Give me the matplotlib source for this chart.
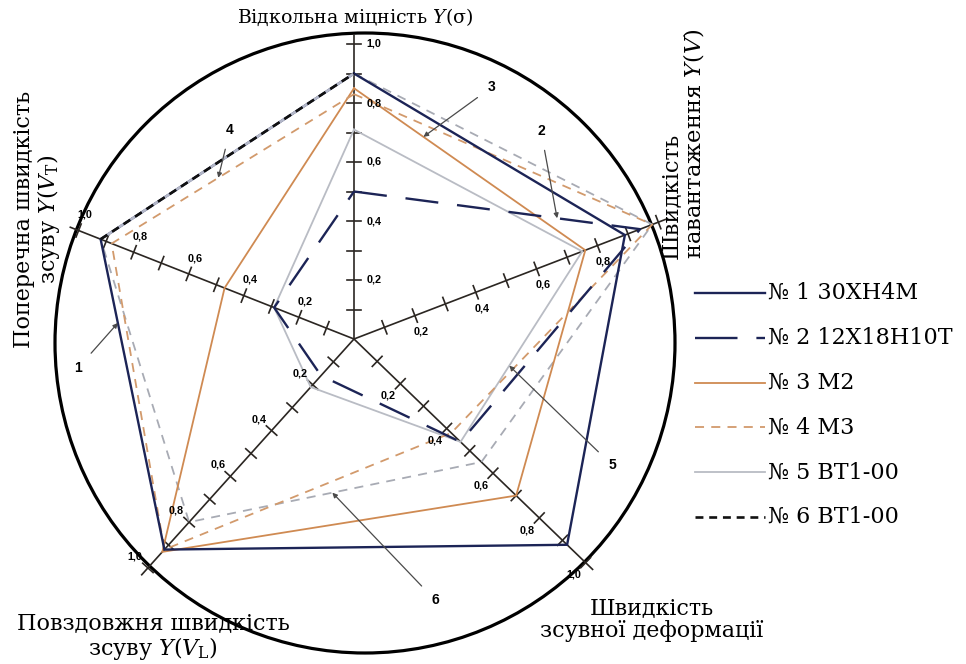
import numpy as np
import matplotlib.pyplot as plt
from matplotlib.patches import Circle

plt.rcParams['mathtext.fontset'] = 'dejavuserif'
SERIF = 'DejaVu Serif'

# five criteria of the diagram, clockwise from the top
axis_titles = ['Відкольна міцність $Y$(σ)',
               'Швидкість\nнавантаження $Y(V)$',
               'Швидкість\nзсувної деформації',
               'Повздовжня швидкість\nзсуву $Y(V_{\\mathrm{L}})$',
               'Поперечна швидкість\nзсуву $Y(V_{\\mathrm{T}})$']
tick_vals = [0.2, 0.4, 0.6, 0.8, 1.0]
tick_text = ['0,2', '0,4', '0,6', '0,8', '1,0']

# normalised criteria per material (same axis order as above)
s1 = [0.90, 0.89, 0.92, 0.92, 0.92]
s2 = [0.50, 0.94, 0.46, 0.16, 0.29]
s3 = [0.85, 0.76, 0.70, 0.93, 0.47]
s4 = [0.83, 0.98, 0.42, 0.92, 0.88]
s5 = [0.71, 0.75, 0.46, 0.21, 0.29]
s6 = [0.90, 0.98, 0.55, 0.80, 0.92]
series = [s1, s2, s3, s4, s5, s6]
names = ['№ 1 30ХН4М', '№ 2 12Х18Н10Т', '№ 3 М2',
         '№ 4 М3', '№ 5 ВТ1-00', '№ 6 ВТ1-00']

# drawing is done in pixel units (y grows downward)
cx, cy = 354, 339
ang = np.radians([90, 21, -44, -132, 158.5])
rad = [295, 326, 322, 308, 296]


def pt(i, v):
    return cx + v * rad[i] * np.cos(ang[i]), cy - v * rad[i] * np.sin(ang[i])


def normal(i):
    # unit vector perpendicular to axis i, turned clockwise on screen
    return np.sin(ang[i]), np.cos(ang[i])


def outline(vals):
    xy = [pt(i, v) for i, v in enumerate(vals)]
    xy.append(xy[0])
    return [p[0] for p in xy], [p[1] for p in xy]


styles = [
    dict(color='#1c2456', lw=1.7, ls='-', zorder=6),
    dict(color='#1c2456', lw=1.7, dashes=(14, 8), zorder=5),
    dict(color='#cf8a52', lw=1.3, ls='-', zorder=4),
    dict(color='#d29a6c', lw=1.3, dashes=(5, 4), zorder=4),
    dict(color='#b9bcc4', lw=1.3, ls='-', zorder=3),
    dict(color='#a8abb4', lw=1.3, dashes=(5, 4), zorder=3),
]

fig = plt.figure(figsize=(9.66, 6.64), dpi=100)
ax = fig.add_axes([0, 0, 1, 1])
ax.set_xlim(0, 966)
ax.set_ylim(664, 0)
ax.axis('off')

# outer circle
ax.add_patch(Circle((365, 343), 310, fill=False, lw=2.3, color='black', zorder=2))

# spokes with ticks every 0.1
for i in range(5):
    x0, y0 = pt(i, 0)
    x1, y1 = pt(i, 1.03)
    ax.plot([x0, x1], [y0, y1], color='#2b2622', lw=1.2, zorder=2)
    nx, ny = normal(i)
    for k in range(1, 11):
        px, py = pt(i, k / 10)
        ax.plot([px - 7 * nx, px + 7 * nx], [py - 7 * ny, py + 7 * ny],
                color='#2b2622', lw=1.2, zorder=2)
    off = 20 if i == 0 else 17
    for v, t in zip(tick_vals, tick_text):
        if i == 1 and v == 1.0:
            continue   # that spot is crowded by the vertices
        px, py = pt(i, v)
        ax.text(px + off * nx, py + off * ny, t, fontsize=7.8, fontweight='bold',
                family='Liberation Sans', ha='center', va='center', zorder=7)

# material outlines
for vals, st in zip(series, styles):
    xs, ys = outline(vals)
    ax.plot(xs, ys, solid_joinstyle='miter', **st)

# edge of sample 6 between V_T and sigma is printed dark
xa, ya = pt(4, s6[4])
xb, yb = pt(0, s6[0])
ax.plot([xa, xb], [ya, yb], color='#111111', lw=1.9, dashes=(3, 2.2),
        gapcolor='#b3b7c8', zorder=7)

# numbered call-outs: (number, series, from axis, to axis, fraction, text position)
callouts = [('1', s1, 4, 3, 0.27, (78, 368)),
            ('2', s2, 0, 1, 0.71, (541, 131)),
            ('3', s3, 0, 1, 0.30, (492, 87)),
            ('4', s4, 4, 0, 0.44, (230, 130)),
            ('5', s5, 1, 2, 0.60, (612, 465)),
            ('6', s6, 2, 3, 0.51, (435, 600))]
for num, vals, a, b, f, (tx, ty) in callouts:
    xa, ya = pt(a, vals[a])
    xb, yb = pt(b, vals[b])
    tip = (xa + f * (xb - xa), ya + f * (yb - ya))
    ax.annotate(num, xy=tip, xytext=(tx, ty), fontsize=10, fontweight='bold',
                family='Liberation Sans', ha='center', va='center', zorder=8,
                arrowprops=dict(arrowstyle='-|>', color='#4a4a4a', lw=0.9,
                                mutation_scale=7, shrinkA=7, shrinkB=0))

# criteria titles
ax.text(355, 17, axis_titles[0], fontsize=13.6, family=SERIF, ha='center', va='center')
ax.text(683, 259, axis_titles[1], fontsize=16.3, family=SERIF, rotation=90,
        ha='center', va='bottom', multialignment='left', linespacing=1.0)
ax.text(652, 620, axis_titles[2], fontsize=16, family=SERIF, ha='center',
        va='center', linespacing=1.05)
ax.text(153, 637, axis_titles[3], fontsize=16, family=SERIF, ha='center',
        va='center', linespacing=1.05)
ax.text(38, 219, axis_titles[4], fontsize=16, family=SERIF, rotation=90,
        ha='center', va='center', multialignment='center', linespacing=1.0)

# legend
y0, dy = 293, 44.8
for k, (name, st) in enumerate(zip(names, styles)):
    y = y0 + k * dy
    st = dict(st)
    st.pop('zorder')
    if k == 5:
        st = dict(color='#111111', lw=1.9, dashes=(3, 2.2))
    if k == 1:
        st['dashes'] = (18, 8)
    ax.plot([695, 765], [y, y], **st)
    ax.text(768, y, name, fontsize=16, family=SERIF, ha='left', va='center')

fig.savefig('out.png', dpi=100)
